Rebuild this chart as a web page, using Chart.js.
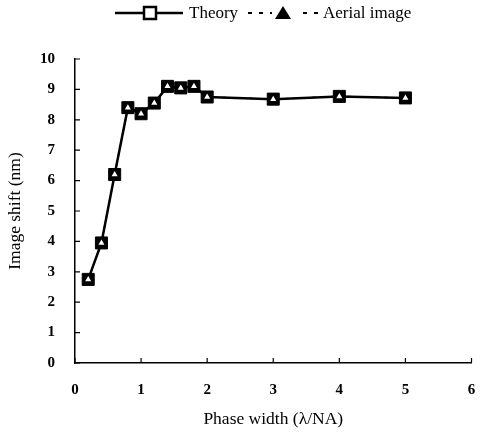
<!DOCTYPE html>
<html>
<head>
<meta charset="utf-8">
<script src="https://cdn.jsdelivr.net/npm/chart.js@4.4.0/dist/chart.umd.min.js"></script>
<style>
  html, body { margin: 0; padding: 0; background: #fff; }
  #wrap { width: 481px; height: 438px; }
</style>
</head>
<body>
<div id="wrap"><canvas id="chart" width="481" height="438"></canvas></div>
<script>
// phase width (lambda/NA)
const phaseWidth = [0.2, 0.4, 0.6, 0.8, 1.0, 1.2, 1.4, 1.6, 1.8, 2, 3, 4, 5];
// image shift (nm)
const theoryShift = [2.75, 3.95, 6.2, 8.4, 8.2, 8.55, 9.1, 9.05, 9.1, 8.75, 8.68, 8.77, 8.72];
const aerialShift = [2.75, 3.95, 6.2, 8.4, 8.2, 8.55, 9.1, 9.05, 9.1, 8.75, 8.68, 8.77, 8.72];
const xTicks = [0, 1, 2, 3, 4, 5, 6];
const yTicks = [0, 1, 2, 3, 4, 5, 6, 7, 8, 9, 10];

const serif = '"Liberation Serif", "DejaVu Serif", serif';

function toPoints(xs, ys) {
    return xs.map((x, i) => ({ x: x, y: ys[i] }));
}

// ticks pointing into the plot
const inwardTicks = {
    id: 'inwardTicks',
    afterDraw(chart) {
        const ctx = chart.ctx;
        const xs = chart.scales.x, ys = chart.scales.y;
        const area = chart.chartArea;
        ctx.save();
        ctx.strokeStyle = '#000';
        ctx.lineWidth = 1.2;
        ctx.beginPath();
        xTicks.forEach(v => {
            const px = xs.getPixelForValue(v);
            ctx.moveTo(px, area.bottom);
            ctx.lineTo(px, area.bottom - 5);
        });
        yTicks.forEach(v => {
            const py = ys.getPixelForValue(v);
            ctx.moveTo(area.left, py);
            ctx.lineTo(area.left + 5, py);
        });
        ctx.stroke();
        ctx.restore();
    }
};

// legend: line + marker + label, drawn at the top
const lineLegend = {
    id: 'lineLegend',
    afterDraw(chart) {
        const ctx = chart.ctx;
        const y = 13;
        ctx.save();
        ctx.font = '17px ' + serif;
        ctx.fillStyle = '#000';
        ctx.textBaseline = 'middle';

        // Theory
        ctx.strokeStyle = '#000';
        ctx.lineWidth = 2.5;
        ctx.setLineDash([]);
        ctx.beginPath();
        ctx.moveTo(115, y); ctx.lineTo(183, y);
        ctx.stroke();
        ctx.fillStyle = '#fff';
        ctx.lineWidth = 2.5;
        ctx.beginPath();
        ctx.rect(144, y - 6, 12, 12);
        ctx.fill(); ctx.stroke();
        ctx.fillStyle = '#000';
        ctx.fillText(chart.data.datasets[0].label, 189, y + 1);

        // Aerial image
        ctx.lineWidth = 2;
        ctx.setLineDash([4, 7]);
        ctx.beginPath();
        ctx.moveTo(248, y); ctx.lineTo(322, y);
        ctx.stroke();
        ctx.setLineDash([]);
        ctx.fillStyle = '#fff';
        ctx.fillRect(272, y - 8, 24, 16);
        ctx.fillStyle = '#000';
        ctx.beginPath();
        ctx.moveTo(283, y - 7); ctx.lineTo(291, y + 6); ctx.lineTo(275, y + 6); ctx.closePath();
        ctx.fill();
        ctx.fillText(chart.data.datasets[1].label, 323, y + 1);
        ctx.restore();
    }
};

new Chart(document.getElementById('chart'), {
    type: 'line',
    data: {
        datasets: [
            {
                label: 'Theory',
                data: toPoints(phaseWidth, theoryShift),
                borderColor: '#000',
                borderWidth: 2.5,
                pointStyle: 'rect',
                pointRadius: 8.5,
                pointBackgroundColor: '#000',
                pointBorderColor: '#000',
                pointBorderWidth: 1,
                tension: 0,
                order: 2
            },
            {
                label: 'Aerial image',
                data: toPoints(phaseWidth, aerialShift),
                borderColor: '#000',
                borderWidth: 1.5,
                borderDash: [4, 5],
                pointStyle: 'triangle',
                pointRadius: 3.5,
                pointBackgroundColor: '#fff',
                pointBorderColor: '#fff',
                pointBorderWidth: 0,
                tension: 0,
                order: 1
            }
        ]
    },
    options: {
        responsive: false,
        animation: false,
        layout: { padding: { top: 59, right: 0, left: 5, bottom: 8 } },
        plugins: {
            legend: { display: false },
            tooltip: { enabled: false }
        },
        scales: {
            x: {
                type: 'linear',
                min: 0, max: 6,
                afterBuildTicks: s => { s.ticks = xTicks.map(v => ({ value: v })); },
                afterFit: s => { s.paddingRight = 6; },
                ticks: { color: '#000', font: { family: serif, size: 15, weight: 'bold' }, padding: 10 },
                grid: { display: false },
                border: { color: '#000', width: 1.5 },
                title: { display: true, text: 'Phase width (λ/NA)', color: '#000', font: { family: serif, size: 17.5 }, padding: { top: 0, bottom: 0 } }
            },
            y: {
                min: 0, max: 10,
                afterBuildTicks: s => { s.ticks = yTicks.map(v => ({ value: v })); },
                ticks: { color: '#000', font: { family: serif, size: 15, weight: 'bold' }, padding: 12 },
                grid: { display: false },
                border: { color: '#000', width: 1.5 },
                title: { display: true, text: 'Image shift (nm)', color: '#000', font: { family: serif, size: 17.5 }, padding: { top: 0, bottom: 2 } }
            }
        }
    },
    plugins: [inwardTicks, lineLegend]
});
</script>
</body>
</html>
